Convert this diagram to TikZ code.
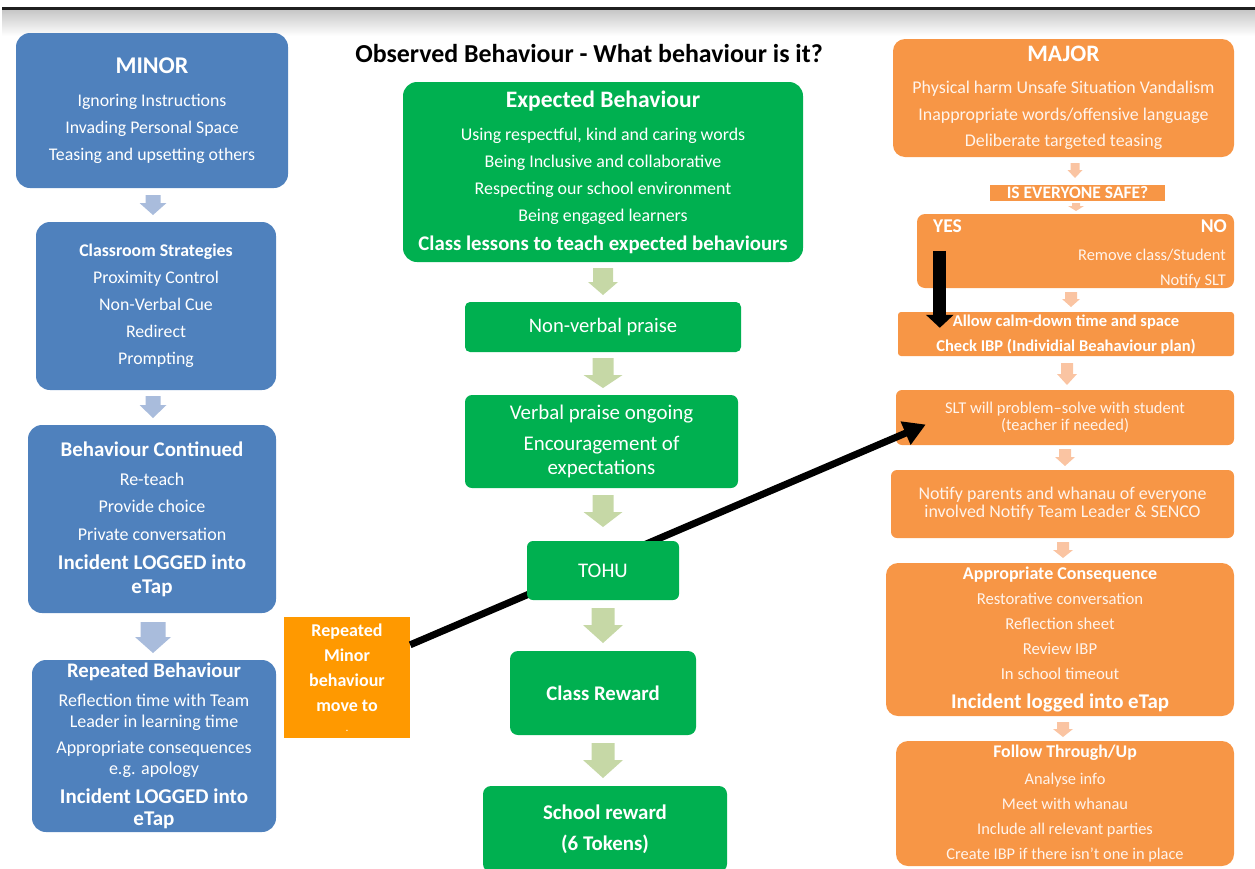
\documentclass[tikz,border=0pt]{standalone}
\usepackage{fontspec}
\setmainfont{Carlito}
\usetikzlibrary{arrows.meta,calc}
\definecolor{cblue}{HTML}{4F81BD}
\definecolor{cbluea}{HTML}{A9BCDC}
\definecolor{cgreen}{HTML}{00B050}
\definecolor{cgreena}{HTML}{C6D8A6}
\definecolor{corange}{HTML}{F79646}
\definecolor{corangea}{HTML}{FAC4A2}
\definecolor{corangeb}{HTML}{FF9900}
\definecolor{otxt}{HTML}{FFF4EC}
\newcommand\fsz[2]{\fontsize{#1}{#2}\selectfont}
% x, y top, y head start, y tip, shaft half width, head half width, colour
\newcommand\blkarrow[7]{\fill[#7] ({#1-#5},#2) -- ({#1+#5},#2) -- ({#1+#5},#3) -- ({#1+#6},#3) -- (#1,#4) -- ({#1-#6},#3) -- ({#1-#5},#3) -- cycle;}
\tikzset{
  box/.style={align=center, inner sep=0pt, text=white},
  bbox/.style={box, fill=cblue, rounded corners=14pt},
  gbox/.style={box, fill=cgreen},
  obox/.style={box, fill=corange, text=otxt},
  otext/.style={inner sep=0pt, text=otxt},
  bigarrow/.style={line width=13pt, -{Triangle[width=27pt,length=13pt]}},
  diagarrow/.style={line width=7pt, -{Triangle[width=24pt,length=22pt]}}
}
\begin{document}
\begin{tikzpicture}[x=1pt,y=-1pt]
\useasboundingbox (0,0) rectangle (1255,868);
\fill[black!88] (2,6.5) rectangle (1255,10);
\shade[top color=black!22, bottom color=white] (2,10) rectangle (1255,36);

\node[font=\bfseries\fsz{25.9}{30}] (title) at (589,54) {Observed Behaviour - What behaviour is it?};

% ---------- left column ----------
\node[bbox, minimum width=272pt, minimum height=155pt, font=\fsz{17.8}{27}] (minor) at (152,110.5)
 {{\bfseries\fsz{24}{28}MINOR}\\[6pt]Ignoring Instructions\\Invading Personal Space\\Teasing and upsetting others};
\node[bbox, minimum width=240pt, minimum height=168pt, font=\fsz{17.8}{27}] (strat) at (156,306)
 {{\bfseries Classroom Strategies}\\Proximity Control\\Non-Verbal Cue\\Redirect\\Prompting};
\node[bbox, minimum width=248pt, minimum height=188pt, font=\fsz{18}{27.5}] (cont) at (152,519)
 {{\bfseries\fsz{20.9}{24}Behaviour Continued}\\[1.5pt]Re-teach\\Provide choice\\Private conversation\\[1.5pt]{\bfseries\fsz{21}{24}Incident LOGGED into}\\[-3.5pt]{\bfseries\fsz{21}{24}eTap}};
\node[bbox, minimum width=244pt, minimum height=172pt, font=\fsz{18}{21}] (rep) at (154,746)
 {{\bfseries\fsz{20.7}{24}Repeated Behaviour}\\[8pt]Reflection time with Team\\Leader in learning time\\[5pt]Appropriate consequences\\e.g. apology\\[8pt]{\bfseries\fsz{21}{24}Incident LOGGED into}\\[1pt]{\bfseries\fsz{21}{24}eTap}};
\node[box, fill=corangeb, minimum width=126pt, minimum height=121pt, font=\bfseries\fsz{18}{25}] (rmin) at (347,677.5)
 {Repeated\\Minor\\behaviour\\move to\\[-5pt]{\fsz{9}{10}.}};

\blkarrow{153}{195}{203}{215}{7.5}{13.5}{cbluea}
\blkarrow{153}{396}{405}{418}{7.5}{13.5}{cbluea}
\blkarrow{153}{622}{637}{653}{12.5}{18}{cbluea}

% ---------- middle column ----------
\node[gbox, rounded corners=14pt, minimum width=400pt, minimum height=180pt, font=\fsz{17.9}{27}] (exp) at (603,172)
 {{\bfseries\fsz{23.6}{27}Expected Behaviour}\\[6pt]Using respectful, kind and caring words\\Being Inclusive and collaborative\\Respecting our school environment\\Being engaged learners\\[2pt]{\bfseries\fsz{20.8}{24}Class lessons to teach expected behaviours}};
\node[gbox, rounded corners=5pt, minimum width=276pt, minimum height=50pt, font=\fsz{20.6}{24}] (nvp) at (603,327) {Non-verbal praise};
\node[gbox, rounded corners=7pt, minimum width=273pt, minimum height=93pt, font=\fsz{20.9}{24}] (vp) at (601.5,441.5) {Verbal praise ongoing\\[7pt]Encouragement of\\expectations};
\node[gbox, rounded corners=8pt, minimum width=186pt, minimum height=84pt, font=\bfseries\fsz{20.8}{24}] (crew) at (603,693) {Class Reward};
\node[gbox, rounded corners=8pt, minimum width=244pt, minimum height=86pt, font=\bfseries\fsz{20.9}{31}] (srew) at (605,829) {School reward\\(6 Tokens)};

\blkarrow{603}{268}{282}{295}{10}{15}{cgreena}
\blkarrow{603}{358}{375}{388}{10.5}{19.5}{cgreena}
\blkarrow{603}{495}{512}{527}{10.5}{19.5}{cgreena}
\blkarrow{603}{608}{625}{643}{11.5}{20}{cgreena}
\blkarrow{603}{743}{760}{778}{11.5}{20}{cgreena}

% ---------- right column ----------
\node[obox, rounded corners=12pt, minimum width=341pt, minimum height=118pt, font=\fsz{17.9}{26.5}] (major) at (1063.5,98)
 {{\bfseries\fsz{23.6}{27}\color{white}MAJOR}\\[5.5pt]Physical harm Unsafe Situation Vandalism\\Inappropriate words/offensive language\\Deliberate targeted teasing};
\node[obox, text=white, minimum width=175pt, minimum height=16pt, font=\bfseries\fsz{17.5}{18}] (safe) at (1077.5,193) {IS EVERYONE SAFE?};
\node[obox, rounded corners=8pt, minimum width=317pt, minimum height=74pt] (yn) at (1075.5,251) {};
\node[otext, text=white, font=\bfseries\fsz{19.5}{22}, anchor=mid west] (yes) at (933,230) {YES};
\node[otext, text=white, font=\bfseries\fsz{19.5}{22}, anchor=mid east] (no) at (1227,230) {NO};
\node[otext, font=\fsz{16.4}{18}, anchor=mid east] (remove) at (1226,258) {Remove class/Student};
\node[otext, font=\fsz{16.4}{18}, anchor=mid east] (nslt) at (1226,283) {Notify SLT};
\node[obox, text=white, rounded corners=3pt, minimum width=336pt, minimum height=44pt, font=\bfseries\fsz{16.5}{25}] (calm) at (1066,334)
 {Allow calm-down time and space\\Check IBP (Individial Beahaviour plan)};
\node[obox, rounded corners=6pt, minimum width=338pt, minimum height=55pt, font=\fsz{16.5}{17}] (slt) at (1065,417.5)
 {SLT will problem–solve with student\\(teacher if needed)};
\node[obox, rounded corners=6pt, minimum width=343pt, minimum height=68pt, font=\fsz{17.9}{18}] (notify) at (1062.5,504)
 {Notify parents and whanau of everyone\\involved Notify Team Leader \& SENCO};
\node[obox, rounded corners=12pt, minimum width=348pt, minimum height=153pt, font=\fsz{16.7}{25}] (cons) at (1060,639.5)
 {{\bfseries\fsz{18}{21}\color{white}Appropriate Consequence}\\Restorative conversation\\Reflection sheet\\Review IBP\\In school timeout\\[4pt]{\bfseries\fsz{20.9}{24}\color{white}Incident logged into eTap}};
\node[obox, rounded corners=12pt, minimum width=338pt, minimum height=125pt, font=\fsz{16.4}{25}] (follow) at (1065,803.5)
 {{\bfseries\fsz{17.8}{21}\color{white}Follow Through/Up}\\[2pt]Analyse info\\Meet with whanau\\Include all relevant parties\\Create IBP if there isn’t one in place};

\blkarrow{1075}{163}{170}{178}{4.5}{7.5}{corangea}
\blkarrow{1076}{203}{206}{211}{4}{8}{corangea}
\blkarrow{1071}{292}{299}{307}{6}{9}{corangea}
\blkarrow{1067}{363}{374}{385}{6}{10}{corangea}
\blkarrow{1065}{449}{457}{466}{6}{10}{corangea}
\blkarrow{1063}{542}{550}{558}{6}{10}{corangea}
\blkarrow{1063}{722}{729}{737}{6}{10}{corangea}

% ---------- black connectors ----------
\coordinate (yA) at ($(yn.north west)+(23,37)$);
\coordinate (cA) at ($(calm.north west)+(42,16)$);
\draw[bigarrow] (yA) -- (cA);

\coordinate (dS) at ($(rmin.north east)+(0,28)$);
\coordinate (dE) at ($(slt.west)+(30,7)$);
\draw[diagarrow] (dS) -- (dE);

% TOHU drawn after the diagonal so that it covers it
\node[gbox, rounded corners=6pt, minimum width=152pt, minimum height=59pt, font=\fsz{20.8}{24}] (tohu) at (603,570.5) {TOHU};
\end{tikzpicture}
\end{document}
